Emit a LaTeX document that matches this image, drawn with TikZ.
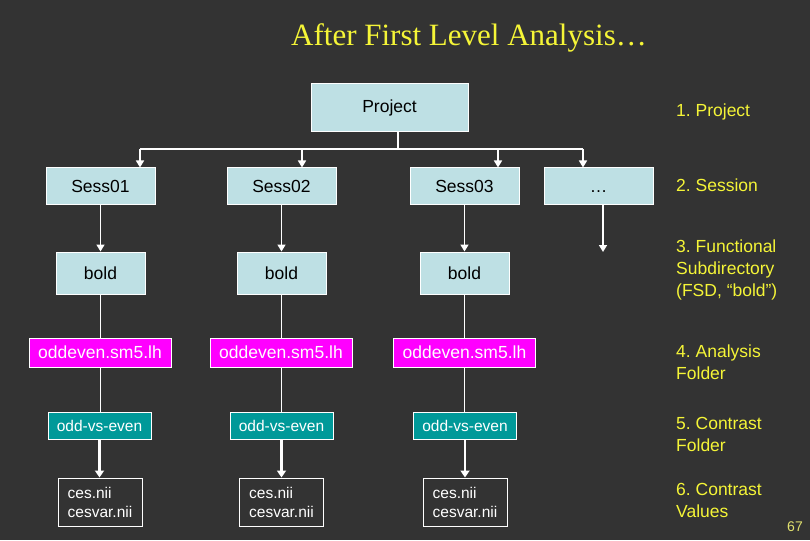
\documentclass[tikz,border=0pt]{standalone}
\usepackage{fontspec}
\setmainfont{Liberation Serif}
\newfontfamily\arialf{Liberation Sans}
\usetikzlibrary{arrows.meta}
\definecolor{bg}{RGB}{51,51,51}
\definecolor{boxblue}{RGB}{190,224,228}
\definecolor{mag}{RGB}{255,0,255}
\definecolor{tealc}{RGB}{0,153,153}
\definecolor{yel}{RGB}{245,245,55}
\definecolor{pageyel}{RGB}{225,225,110}
\begin{document}
\frenchspacing
\begin{tikzpicture}[x=1pt,y=-1pt,
  base/.style={draw=white, line width=1pt, inner sep=0pt, font=\arialf\fontsize{17.5}{21}\selectfont},
  bluebox/.style={base, fill=boxblue, text=black},
  oebox/.style={base, fill=mag, text=white, minimum width=142pt, minimum height=29pt},
  ovebox/.style={base, fill=tealc, text=white, minimum width=103pt, minimum height=27.5pt, font=\arialf\fontsize{15.5}{19}\selectfont},
  cesbox/.style={base, fill=bg, text=white, minimum width=84pt, minimum height=48pt, align=left, font=\arialf\fontsize{15.5}{19}\selectfont},
  sessbox/.style={bluebox, minimum width=109pt, minimum height=36pt},
  boldbox/.style={bluebox, minimum width=89pt, minimum height=42pt},
  conn/.style={draw=white, line width=1.6pt},
  arr/.style={conn, -{Triangle[width=8pt,length=7pt]}},
  thinline/.style={draw=white, line width=1pt},
  thickarr/.style={draw=white, line width=2.2pt, -{Triangle[width=9pt,length=7pt]}},
  lab/.style={anchor=west, align=left, text=yel, font=\arialf\fontsize{17.5}{22}\selectfont, inner sep=0pt},
]
\fill[bg] (0,0) rectangle (810,540);
\useasboundingbox (0,0) rectangle (810,540);

% title
\node[text=yel, font=\fontsize{31}{36}\selectfont, anchor=base, inner sep=0pt] (title) at (469,46) {After First Level Analysis…};

% project
\node[bluebox, minimum width=157pt, minimum height=48pt] (proj) at (389.5,108) {Project};

% sessions
\node[sessbox] (s1) at (100.5,186) {Sess01};
\node[sessbox] (s2) at (281.5,186) {Sess02};
\node[sessbox] (s3) at (464.5,186) {Sess03};
\node[sessbox] (s4) at (598.5,186) {\vphantom{S}…};

% bold
\node[boldbox] (b1) at (100.5,273) {bold};
\node[boldbox] (b2) at (281.5,273) {bold};
\node[boldbox] (b3) at (464.5,273) {bold};

% oddeven
\node[oebox] (o1) at (100,352.5) {oddeven.sm5.lh};
\node[oebox] (o2) at (281,352.5) {oddeven.sm5.lh};
\node[oebox] (o3) at (464.5,352.5) {oddeven.sm5.lh};

% odd-vs-even
\node[ovebox] (v1) at (99.5,426) {odd-vs-even};
\node[ovebox] (v2) at (281.5,426) {odd-vs-even};
\node[ovebox] (v3) at (465,426) {odd-vs-even};

% ces
\node[cesbox] (c1) at (100,502) {ces.nii\\cesvar.nii};
\node[cesbox] (c2) at (281.5,502) {ces.nii\\cesvar.nii};
\node[cesbox] (c3) at (465,502) {ces.nii\\cesvar.nii};

% bus
\coordinate (bus) at (398,149);
\coordinate (k1) at (140,149);
\coordinate (k2) at (302,149);
\coordinate (k3) at (498,149);
\coordinate (k4) at (583,149);
\coordinate (dend) at (603,252);
\draw[conn] (proj.south -| bus) -- (bus);
\draw[conn] (k1) -- (k4);
\draw[arr] (k1) -- (k1 |- s1.north);
\draw[arr] (k2) -- (k2 |- s2.north);
\draw[arr] (k3) -- (k3 |- s3.north);
\draw[arr] (k4) -- (k4 |- s4.north);

% session -> bold
\draw[arr] (s1.south) -- (b1.north);
\draw[arr] (s2.south) -- (b2.north);
\draw[arr] (s3.south) -- (b3.north);
\draw[arr] (s4.south -| dend) -- (dend);

% bold -> oddeven
\draw[thinline] (b1.south) -- (b1.south |- o1.north);
\draw[thinline] (b2.south) -- (b2.south |- o2.north);
\draw[thinline] (b3.south) -- (b3.south |- o3.north);

% oddeven -> odd-vs-even
\draw[thinline] (o1.south) -- (o1.south |- v1.north);
\draw[thinline] (o2.south) -- (o2.south |- v2.north);
\draw[thinline] (o3.south) -- (o3.south |- v3.north);

% odd-vs-even -> ces
\draw[thickarr] (v1.south) -- (v1.south |- c1.north);
\draw[thickarr] (v2.south) -- (v2.south |- c2.north);
\draw[thickarr] (v3.south) -- (v3.south |- c3.north);

% labels
\node[lab] (l1) at (676,112) {1. Project};
\node[lab] (l2) at (676,185) {2. Session};
\node[lab] (l3) at (676,270) {3. Functional\\Subdirectory\\(FSD, “bold”)};
\node[lab] (l4) at (676,362) {4. Analysis\\Folder};
\node[lab] (l5) at (676,434) {5. Contrast\\Folder};
\node[lab] (l6) at (676,500) {6. Contrast\\Values};
\node[text=pageyel, font=\arialf\fontsize{14}{16}\selectfont, inner sep=0pt] (pg) at (795,527) {67};
\end{tikzpicture}
\end{document}
